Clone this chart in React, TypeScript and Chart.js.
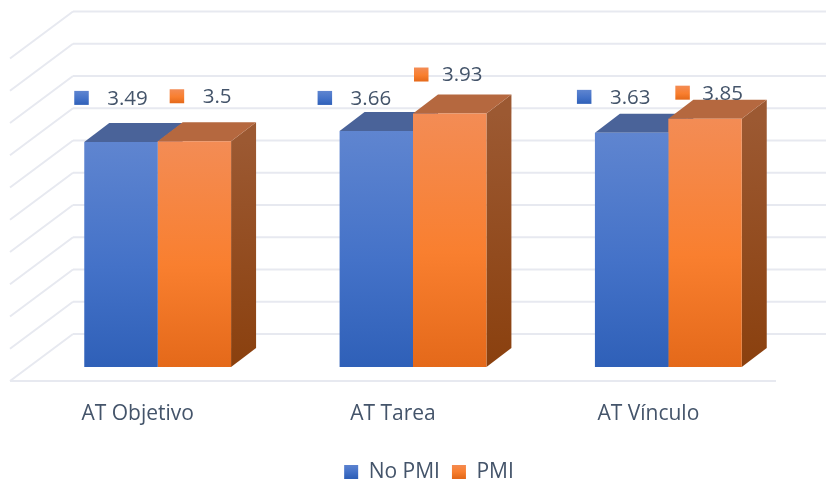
import { useEffect, useRef } from "react";
import { Chart, registerables } from "chart.js";

Chart.register(...registerables);

const categories = ["AT Objetivo", "AT Tarea", "AT Vínculo"];
const seriesNames = ["No PMI", "PMI"];
const noPmi = [3.49, 3.66, 3.63];
const pmi = [3.5, 3.93, 3.85];

const TEXT = "#44546a";
const GRID = "#e7e9f0";
const FONT = '"Open Sans", sans-serif';

// Extrusion of each column and of the floor/wall box, in pixels.
const BAR_DEPTH = { dx: 25, dy: -19 };
const WALL = { inset: 43, dy: -33, right: 826 };
const SIDE_WALL = { dx: -63, dy: 47 };
const FLOOR = { dy: 14, right: 776 };

// Hand-placed value labels: key square offset from the column's top-left corner,
// then the gap from the square to the number.
const labelOffsets = [
  [[-10, -51, 33], [-22, -40, 33], [-18, -43, 33]],
  [[12, -52, 33], [1, -46, 28], [7, -33, 27]],
];

const palette = [
  { top: "#5f85d0", mid: "#4472c8", bottom: "#2f60b8", lid: "#4a6399", sideTop: "#3f5f9a", sideBottom: "#234a8a" },
  { top: "#f38c55", mid: "#f97f2f", bottom: "#e4691a", lid: "#b5683f", sideTop: "#9c5932", sideBottom: "#8a400e" },
];

function columnFill(ctx: CanvasRenderingContext2D, idx: number, y0: number, y1: number) {
  const p = palette[idx];
  const g = ctx.createLinearGradient(0, y0, 0, y1);
  g.addColorStop(0, p.top);
  g.addColorStop(0.55, p.mid);
  g.addColorStop(1, p.bottom);
  return g;
}

function poly(ctx: CanvasRenderingContext2D, pts: number[][], fill: string | CanvasGradient) {
  ctx.beginPath();
  pts.forEach(([x, y], i) => (i ? ctx.lineTo(x, y) : ctx.moveTo(x, y)));
  ctx.closePath();
  ctx.fillStyle = fill;
  ctx.fill();
}

function line(ctx: CanvasRenderingContext2D, x0: number, y0: number, x1: number, y1: number) {
  ctx.beginPath();
  ctx.moveTo(x0, y0);
  ctx.lineTo(x1, y1);
  ctx.stroke();
}

// Back wall, side wall and floor grid, following the value axis ticks.
const boxGrid = {
  id: "boxGrid",
  beforeDatasetsDraw(chart: any) {
    const { ctx, chartArea, scales } = chart;
    const wallX = chartArea.left + WALL.inset;
    ctx.save();
    ctx.strokeStyle = GRID;
    ctx.lineWidth = 2;
    scales.y.ticks.forEach((t: any) => {
      const y = scales.y.getPixelForValue(t.value) + WALL.dy;
      line(ctx, wallX, y, WALL.right, y);
      line(ctx, wallX, y, wallX + SIDE_WALL.dx, y + SIDE_WALL.dy);
    });
    const floorY = scales.y.getPixelForValue(0) + FLOOR.dy;
    line(ctx, wallX + SIDE_WALL.dx, floorY, FLOOR.right, floorY);
    ctx.restore();
  },
};

// Lid and right-hand face of every column, derived from the bar elements.
const columnFaces = {
  id: "columnFaces",
  beforeDatasetsDraw(chart: any) {
    const { ctx } = chart;
    const { dx, dy } = BAR_DEPTH;
    chart.data.datasets.forEach((_: any, di: number) => {
      const p = palette[di];
      chart.getDatasetMeta(di).data.forEach((bar: any) => {
        const l = bar.x - bar.width / 2;
        const r = bar.x + bar.width / 2;
        const side = ctx.createLinearGradient(0, bar.y, 0, bar.base);
        side.addColorStop(0, p.sideTop);
        side.addColorStop(1, p.sideBottom);
        poly(ctx, [[r, bar.y], [r + dx, bar.y + dy], [r + dx, bar.base + dy], [r, bar.base]], side);
        poly(ctx, [[l, bar.y], [r, bar.y], [r + dx, bar.y + dy], [l + dx, bar.y + dy]], p.lid);
      });
    });
  },
};

// Value labels with their series key, drawn on top of the columns.
const valueLabels = {
  id: "valueLabels",
  afterDatasetsDraw(chart: any) {
    const { ctx } = chart;
    ctx.save();
    ctx.font = `20.5px ${FONT}`;
    ctx.textBaseline = "middle";
    ctx.textAlign = "left";
    chart.data.datasets.forEach((ds: any, di: number) => {
      chart.getDatasetMeta(di).data.forEach((bar: any, i: number) => {
        const [ox, oy, gap] = labelOffsets[di][i];
        const x = bar.x - bar.width / 2 + ox;
        const y = bar.y + oy;
        ctx.fillStyle = columnFill(ctx, di, y, y + 14);
        ctx.fillRect(x, y, 14.5, 14);
        ctx.fillStyle = TEXT;
        ctx.fillText(String(ds.data[i]), x + gap, y + 8);
      });
    });
    ctx.restore();
  },
};

// The legend sits right of the canvas centre and close to the bottom edge.
const legendShift = {
  id: "legendShift",
  afterLayout(chart: any) {
    const legend = chart.legend;
    legend.left += 16;
    legend.right += 16;
    legend.top += 9.5;
    legend.bottom += 9.5;
  },
};

export default function App() {
  const ref = useRef<HTMLCanvasElement>(null);

  useEffect(() => {
    const canvas = ref.current!;
    const dsFill = (idx: number) => (c: any) => {
      const { chart } = c;
      if (!chart.chartArea || c.parsed === undefined) return palette[idx].mid;
      const y0 = chart.scales.y.getPixelForValue(c.parsed.y);
      return columnFill(chart.ctx, idx, y0, chart.scales.y.getPixelForValue(0));
    };
    const chart = new Chart(canvas, {
      type: "bar",
      data: {
        labels: categories,
        datasets: [
          { label: seriesNames[0], data: noPmi, backgroundColor: dsFill(0) },
          { label: seriesNames[1], data: pmi, backgroundColor: dsFill(1) },
        ],
      },
      plugins: [boxGrid, columnFaces, valueLabels, legendShift],
      options: {
        responsive: false,
        animation: false,
        layout: { padding: { left: 30, right: 30, top: 44.5, bottom: 0 } },
        datasets: { bar: { barPercentage: 1, categoryPercentage: 0.575 } },
        scales: {
          x: {
            grid: { display: false },
            border: { display: false },
            ticks: { color: TEXT, font: { family: FONT, size: 21 }, labelOffset: -20, padding: 26, maxRotation: 0 },
            afterFit(scale: any) {
              scale.height = 73;
            },
          },
          y: { display: false, min: 0, max: 5, ticks: { stepSize: 0.5 } },
        },
        plugins: {
          tooltip: { enabled: false },
          legend: {
            position: "bottom",
            labels: {
              color: TEXT,
              font: { family: FONT, size: 21 },
              boxWidth: 14,
              boxHeight: 14,
              padding: 12,
              generateLabels(c: any) {
                return c.data.datasets.map((d: any, i: number) => ({
                  text: d.label,
                  fillStyle: columnFill(c.ctx, i, 464, 478),
                  strokeStyle: "transparent",
                  lineWidth: 0,
                  datasetIndex: i,
                  fontColor: TEXT,
                }));
              },
            },
          },
        },
      },
    } as any);
    return () => chart.destroy();
  }, []);

  return (
    <div style={{ position: "fixed", left: 0, top: 0, width: 826, height: 483, background: "#fff" }}>
      <canvas ref={ref} width={826} height={483} style={{ display: "block" }} />
    </div>
  );
}
